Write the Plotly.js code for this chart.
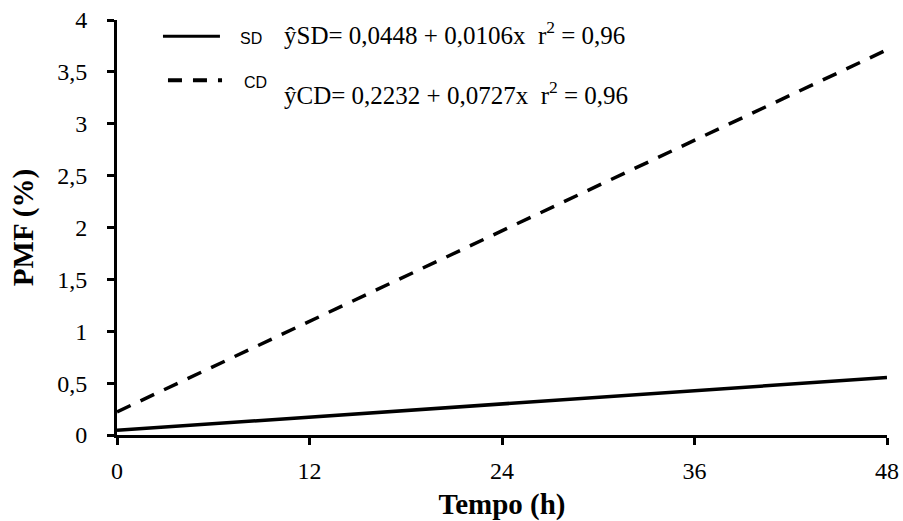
<!DOCTYPE html>
<html>
<head>
<meta charset="utf-8">
<script src="https://cdn.plot.ly/plotly-3.0.1.min.js"></script>
<style>html,body{margin:0;padding:0;background:#fff;}#chart{width:903px;height:521px;}</style>
</head>
<body>
<div id="chart"></div>
<script>
const tempo = [0, 48];
const sdValues = [0.045, 0.554];
const cdValues = [0.223, 3.713];
const xTicks = [0, 12, 24, 36, 48];
const yTicks = [0, 0.5, 1, 1.5, 2, 2.5, 3, 3.5, 4];
const seriesNames = ["SD", "CD"];
const equations = ["ŷSD= 0,0448 + 0,0106x  r<sup>2</sup> = 0,96", "ŷCD= 0,2232 + 0,0727x  r<sup>2</sup> = 0,96"];

const serif = "Liberation Serif, Times New Roman, serif";
const sans = "Liberation Sans, Arial, sans-serif";

const traces = [
  {x: tempo, y: sdValues, mode: "lines", name: seriesNames[0], line: {color: "#000", width: 3.5}, showlegend: false},
  {x: tempo, y: cdValues, mode: "lines", name: seriesNames[1], line: {color: "#000", width: 3.5, dash: "15px,11px"}, showlegend: false}
];

const layout = {
  width: 903, height: 521,
  margin: {l: 117, r: 16, t: 20, b: 86},
  paper_bgcolor: "#fff", plot_bgcolor: "#fff",
  separators: ",.",
  font: {family: serif, color: "#000", size: 24},
  xaxis: {
    range: [0, 48], tickvals: xTicks, ticktext: xTicks.map(String),
    showgrid: false, zeroline: false, showline: true, linecolor: "#000", linewidth: 3,
    ticks: "outside", ticklen: 7, tickwidth: 3, tickcolor: "#000",
    tickfont: {family: serif, size: 24}, ticklabelstandoff: 5,
    title: {text: "<b>Tempo (h)</b>", font: {family: serif, size: 29}, standoff: 13}
  },
  yaxis: {
    range: [0, 4], tickvals: yTicks, ticktext: yTicks.map(v => String(v).replace(".", ",")),
    showgrid: false, zeroline: false, showline: true, linecolor: "#000", linewidth: 3,
    ticks: "outside", ticklen: 7, tickwidth: 3, tickcolor: "#000",
    tickfont: {family: serif, size: 24}, ticklabelstandoff: 15,
    title: {text: "<b>PMF (%)</b>", font: {family: serif, size: 29}, standoff: 16}
  },
  shapes: [
    {type: "line", xref: "paper", yref: "paper", x0: 0.0597, x1: 0.1337, y0: 0.961, y1: 0.961, line: {color: "#000", width: 3}},
    {type: "line", xref: "paper", yref: "paper", x0: 0.0662, x1: 0.1364, y0: 0.855, y1: 0.855, line: {color: "#000", width: 4, dash: "14px,11px"}}
  ],
  annotations: [
    {xref: "paper", yref: "paper", x: 0.157, y: 0.956, xanchor: "left", yanchor: "middle", text: seriesNames[0], showarrow: false, font: {family: sans, size: 16}},
    {xref: "paper", yref: "paper", x: 0.162, y: 0.85, xanchor: "left", yanchor: "middle", text: seriesNames[1], showarrow: false, font: {family: sans, size: 16}},
    {xref: "paper", yref: "paper", x: 0.214, y: 0.968, xanchor: "left", yanchor: "middle", text: equations[0], showarrow: false, font: {family: serif, size: 25}},
    {xref: "paper", yref: "paper", x: 0.214, y: 0.823, xanchor: "left", yanchor: "middle", text: equations[1], showarrow: false, font: {family: serif, size: 25}}
  ]
};

Plotly.newPlot("chart", traces, layout, {displayModeBar: false, staticPlot: true});
</script>
</body>
</html>
